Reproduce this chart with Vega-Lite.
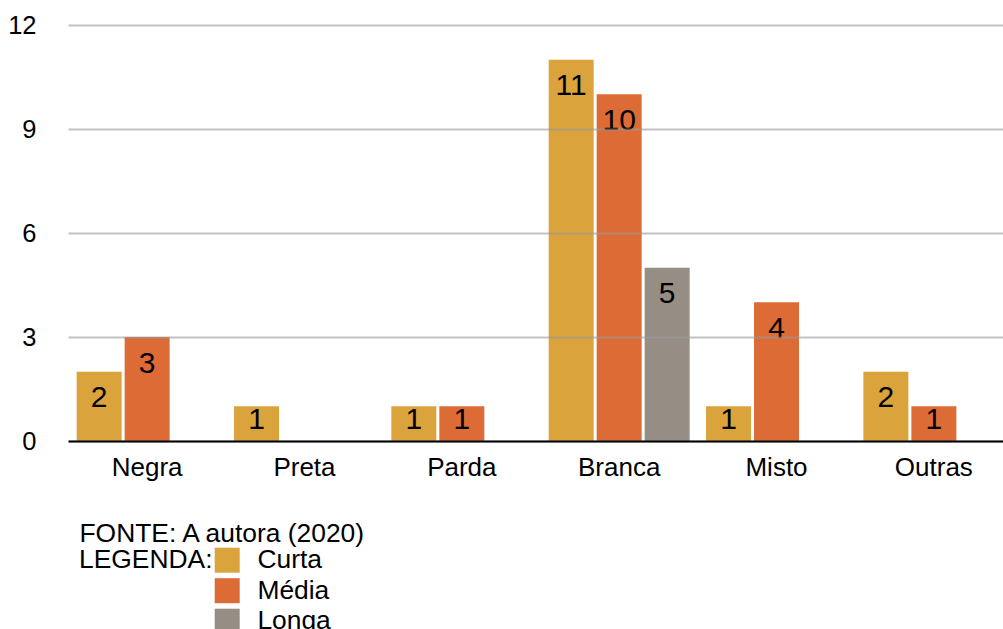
{
  "$schema": "https://vega.github.io/schema/vega-lite/v6.json",
  "autosize": {"type": "none"},
  "padding": {"left": 68, "top": 25, "right": 0, "bottom": 188},
  "width": 935,
  "height": 416,
  "background": "white",
  "config": {
    "font": "Liberation Sans",
    "view": {"stroke": null}
  },
  "data": {
    "values": [
      {"categoria": "Negra", "duracao": "Curta", "valor": 2},
      {"categoria": "Negra", "duracao": "Média", "valor": 3},
      {"categoria": "Negra", "duracao": "Longa", "valor": 0},
      {"categoria": "Preta", "duracao": "Curta", "valor": 1},
      {"categoria": "Preta", "duracao": "Média", "valor": 0},
      {"categoria": "Preta", "duracao": "Longa", "valor": 0},
      {"categoria": "Parda", "duracao": "Curta", "valor": 1},
      {"categoria": "Parda", "duracao": "Média", "valor": 1},
      {"categoria": "Parda", "duracao": "Longa", "valor": 0},
      {"categoria": "Branca", "duracao": "Curta", "valor": 11},
      {"categoria": "Branca", "duracao": "Média", "valor": 10},
      {"categoria": "Branca", "duracao": "Longa", "valor": 5},
      {"categoria": "Misto", "duracao": "Curta", "valor": 1},
      {"categoria": "Misto", "duracao": "Média", "valor": 4},
      {"categoria": "Misto", "duracao": "Longa", "valor": 0},
      {"categoria": "Outras", "duracao": "Curta", "valor": 2},
      {"categoria": "Outras", "duracao": "Média", "valor": 1},
      {"categoria": "Outras", "duracao": "Longa", "valor": 0}
    ]
  },
  "encoding": {
    "x": {
      "field": "categoria",
      "type": "nominal",
      "sort": ["Negra", "Preta", "Parda", "Branca", "Misto", "Outras"],
      "scale": {"range": [0, 945], "paddingInner": 0.104, "paddingOuter": 0.055},
      "axis": {
        "zindex": 1,
        "domain": true,
        "domainColor": "#000000",
        "domainWidth": 2,
        "ticks": false,
        "tickSize": 0,
        "labelAngle": 0,
        "labelFontSize": 26,
        "labelColor": "#000000",
        "labelPadding": 13,
        "title": "FONTE: A autora (2020)",
        "titleFontSize": 26.4,
        "titleFontWeight": "normal",
        "titleColor": "#000000",
        "titleAlign": "left",
        "titleAnchor": "start",
        "titleBaseline": "alphabetic",
        "titleX": 11,
        "titleY": 100
      }
    },
    "xOffset": {
      "field": "duracao",
      "type": "nominal",
      "sort": ["Curta", "Média", "Longa"],
      "scale": {"paddingInner": 0.0625, "paddingOuter": 0}
    },
    "y": {
      "field": "valor",
      "type": "quantitative",
      "scale": {"domain": [0, 12], "nice": false},
      "axis": {
        "zindex": 1,
        "values": [0, 3, 6, 9, 12],
        "domain": false,
        "ticks": false,
        "tickSize": 0,
        "grid": true,
        "gridColor": "#999999",
        "gridOpacity": 0.6,
        "gridWidth": 2,
        "labelFontSize": 25.5,
        "labelColor": "#000000",
        "labelPadding": 32,
        "title": null
      }
    }
  },
  "layer": [
    {
      "mark": {"type": "bar"},
      "encoding": {
        "color": {
          "field": "duracao",
          "type": "nominal",
          "sort": ["Curta", "Média", "Longa"],
          "scale": {"domain": ["Curta", "Média", "Longa"], "range": ["#DBA33B", "#DD6B36", "#968D84"]},
          "legend": {
            "orient": "none",
            "legendX": 11,
            "legendY": 522,
            "padding": 0,
            "direction": "vertical",
            "title": "LEGENDA:",
            "titleOrient": "left",
            "titleAnchor": "start",
            "titleBaseline": "top",
            "titleFontSize": 26.4,
            "titleFontWeight": "normal",
            "titleColor": "#000000",
            "titlePadding": 1,
            "symbolType": "square",
            "symbolSize": 625,
            "symbolStrokeWidth": 0,
            "symbolOpacity": 1,
            "labelFontSize": 26.4,
            "labelColor": "#000000",
            "labelOffset": 17,
            "rowPadding": 3.5
          }
        }
      }
    },
    {
      "transform": [{"filter": "datum.valor > 1"}],
      "mark": {"type": "text", "fontSize": 30, "baseline": "alphabetic", "align": "center", "dy": 35.5, "color": "#000000"},
      "encoding": {"text": {"field": "valor", "type": "quantitative"}}
    },
    {
      "transform": [{"filter": "datum.valor == 1"}],
      "mark": {"type": "text", "fontSize": 30, "baseline": "alphabetic", "align": "center", "dy": 22.5, "color": "#000000"},
      "encoding": {"text": {"field": "valor", "type": "quantitative"}}
    }
  ]
}
